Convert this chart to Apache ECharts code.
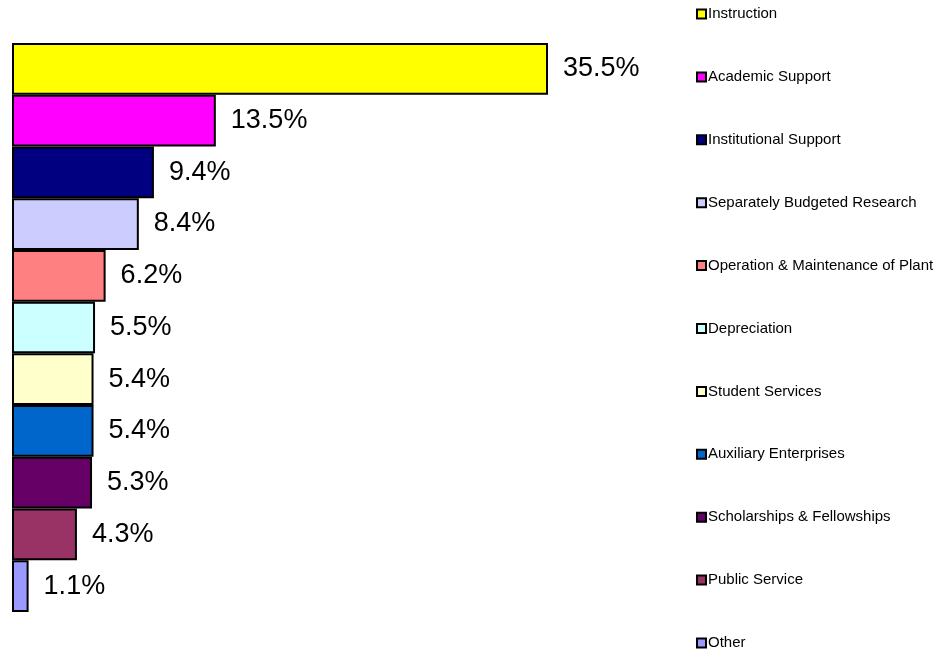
<!DOCTYPE html>
<html>
<head>
<meta charset="utf-8">
<script src="https://cdn.jsdelivr.net/npm/echarts@6/dist/echarts.min.js"></script>
<style>html,body{margin:0;padding:0;background:#fff}#c{width:940px;height:651px}</style>
</head>
<body>
<div id="c"></div>
<script>
const categories = ["Instruction","Academic Support","Institutional Support","Separately Budgeted Research","Operation & Maintenance of Plant","Depreciation","Student Services","Auxiliary Enterprises","Scholarships & Fellowships","Public Service","Other"];
const values = [35.5,13.5,9.4,8.4,6.2,5.5,5.4,5.4,5.3,4.3,1.1];
const colors = ["#FFFF00","#FF00FF","#000080","#CCCCFF","#FF8080","#CCFFFF","#FFFFCC","#0066CC","#660066","#993366","#9999FF"];

const series = categories.map((name, i) => ({
  name: name,
  type: 'bar',
  stack: 'all',
  barCategoryGap: 0,
  data: categories.map((c, j) => j === i ? values[i] : '-'),
  itemStyle: { color: colors[i], borderColor: '#000', borderWidth: 2 },
  label: {
    show: true, position: 'right', distance: 15,
    formatter: p => p.value.toFixed(1) + '%',
    color: '#000', fontSize: 27, fontFamily: 'Liberation Sans, Arial, sans-serif'
  },
  emphasis: { disabled: true }
}));

const chart = echarts.init(document.getElementById('c'));
chart.setOption({
  animation: false,
  grid: { left: 12, top: 43, width: 536, height: 569, containLabel: false },
  xAxis: { type: 'value', min: 0, max: 35.5, show: false },
  yAxis: { type: 'category', data: categories, inverse: true, show: false },
  legend: {
    orient: 'vertical', left: 696, top: 6, padding: 0,
    itemWidth: 9, itemHeight: 9, itemGap: 46.9,
    icon: 'rect',
    itemStyle: { borderColor: '#000', borderWidth: 2 },
    textStyle: { fontSize: 15, lineHeight: 16, color: '#000', fontFamily: 'Liberation Sans, Arial, sans-serif', padding: [0,0,0,-3] },
    data: categories,
    selectedMode: false
  },
  series: series
});
</script>
</body>
</html>
